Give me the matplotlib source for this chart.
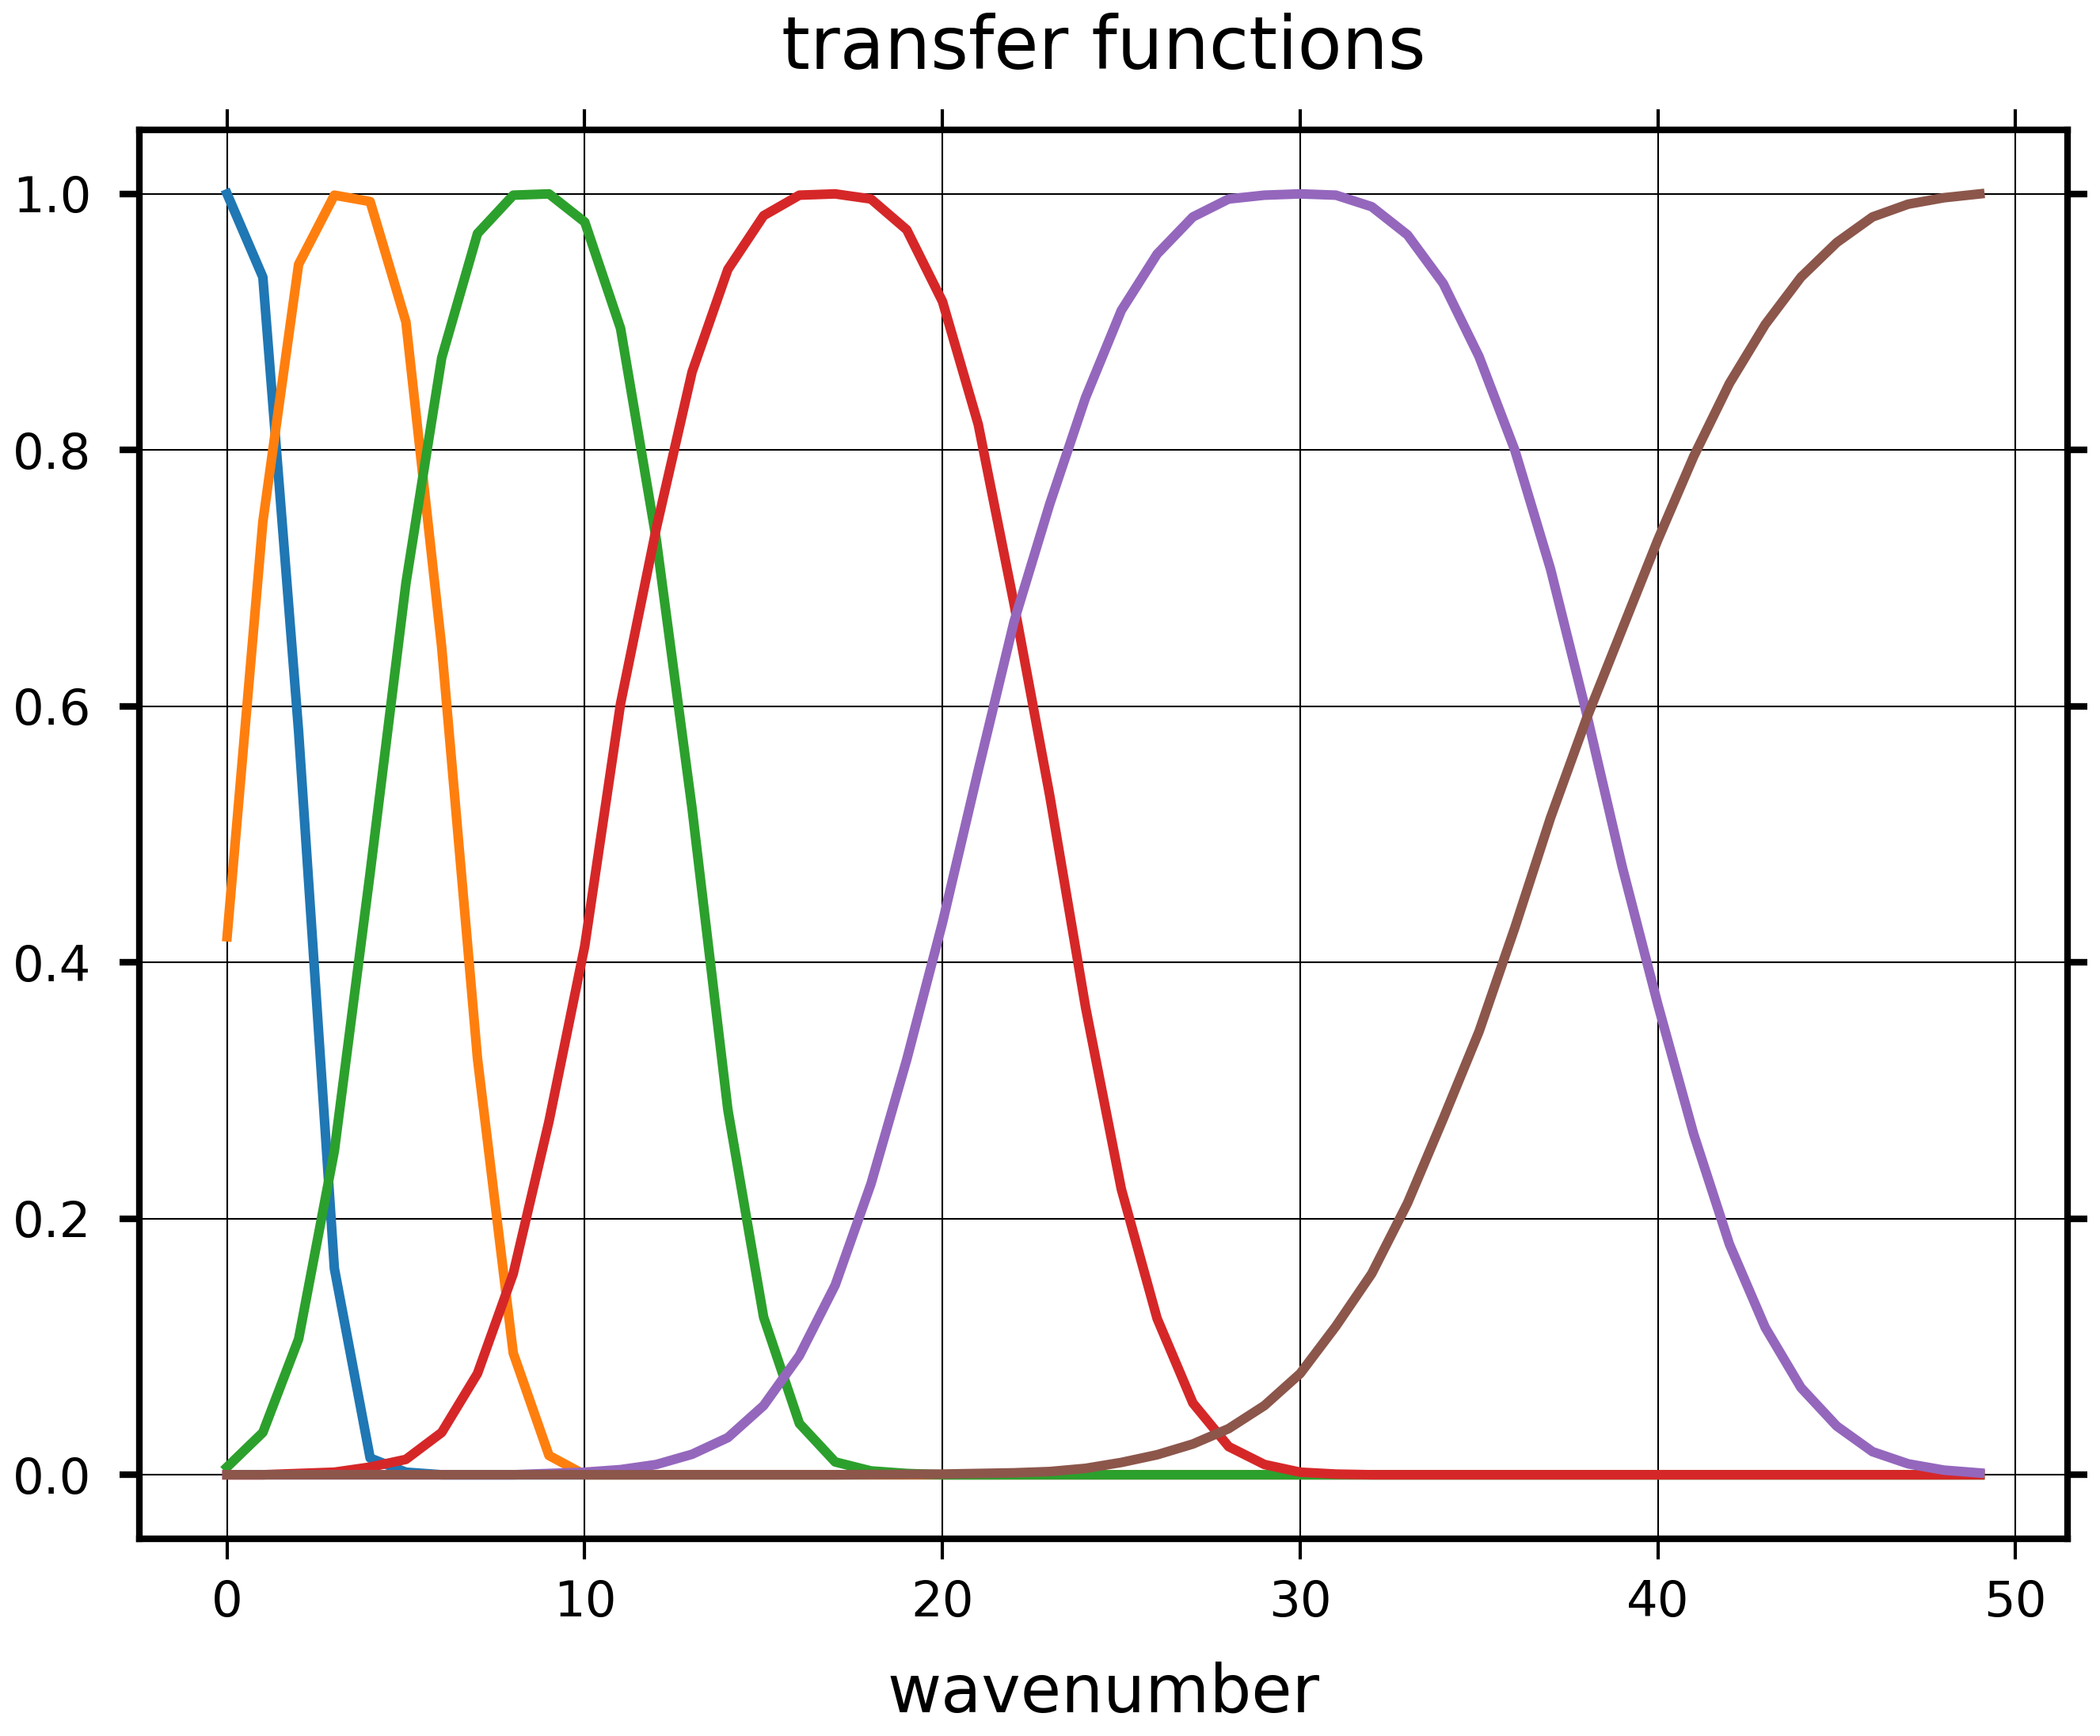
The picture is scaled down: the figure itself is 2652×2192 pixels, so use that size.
import numpy as np
import matplotlib
matplotlib.use('Agg')
import matplotlib.pyplot as plt


wavenumber = np.arange(50)

blue = [1.0, 0.935, 0.58, 0.161, 0.013, 0.002] + [0.0] * 44
orange = [0.42, 0.744, 0.945, 0.999, 0.994, 0.90, 0.646, 0.325, 0.095, 0.015] + [0.0] * 40
green = [0.006, 0.033, 0.106, 0.253, 0.47, 0.696, 0.872, 0.969, 0.999, 1.0,
         0.978, 0.895, 0.73, 0.52, 0.285, 0.123, 0.040, 0.010, 0.003, 0.001] + [0.0] * 30
red = [0.0, 0.0, 0.001, 0.002, 0.006, 0.012, 0.033, 0.079, 0.157, 0.276,
       0.413, 0.602, 0.739, 0.861, 0.941, 0.983, 0.999, 1.0, 0.996, 0.972,
       0.916, 0.820, 0.68, 0.53, 0.365, 0.223, 0.122, 0.056, 0.022, 0.008,
       0.002, 0.0005] + [0.0] * 18
purple = [0.0] * 9 + [0.001, 0.002, 0.004, 0.008, 0.016, 0.029, 0.054, 0.093, 0.148, 0.227, 0.324,
          0.431, 0.550, 0.666, 0.758, 0.841, 0.909, 0.953, 0.982, 0.996, 0.999,
          1.0, 0.999, 0.990, 0.968, 0.930, 0.873, 0.80, 0.707, 0.595, 0.475,
          0.367, 0.266, 0.180, 0.115, 0.068, 0.038, 0.018, 0.0085, 0.0036, 0.0014]
brown = [0.0] * 18 + [0.0002, 0.0003, 0.0005, 0.001, 0.0015,
         0.0025, 0.005, 0.0096, 0.0156, 0.024, 0.036, 0.054, 0.079, 0.116, 0.157,
         0.212, 0.278, 0.346, 0.427, 0.513, 0.59, 0.66, 0.73, 0.795, 0.852,
         0.898, 0.935, 0.962, 0.982, 0.992, 0.997, 1.0]

series = [blue, orange, green, red, purple, brown]
colors = ['#1f77b4', '#ff7f0e', '#2ca02c', '#d62728', '#9467bd', '#8c564b']

fig = plt.figure(figsize=(8.84, 7.3067), dpi=300)
ax = fig.add_axes([0.0664, 0.1136, 0.9181, 0.8116])

for s, c in zip(series, colors):
    ax.plot(wavenumber, s, color=c, lw=2.9)

ax.set_xticks([0, 10, 20, 30, 40, 50])
ax.set_yticks([0.0, 0.2, 0.4, 0.6, 0.8, 1.0])
ax.grid(True, color='k', lw=0.5)
for sp in ax.spines.values():
    sp.set_linewidth(2)

ax.tick_params(axis='x', direction='out', length=6.2, width=1, top=True,
               labelsize=15, pad=6)
ax.tick_params(axis='y', direction='out', length=6, width=2, right=True,
               labelsize=15, pad=8.5)

ax.set_xlabel('wavenumber', fontsize=20, labelpad=10.5)
ax.set_title('transfer functions', fontsize=22, pad=18.5)

plt.savefig('out.png', dpi=300)
plt.close()
